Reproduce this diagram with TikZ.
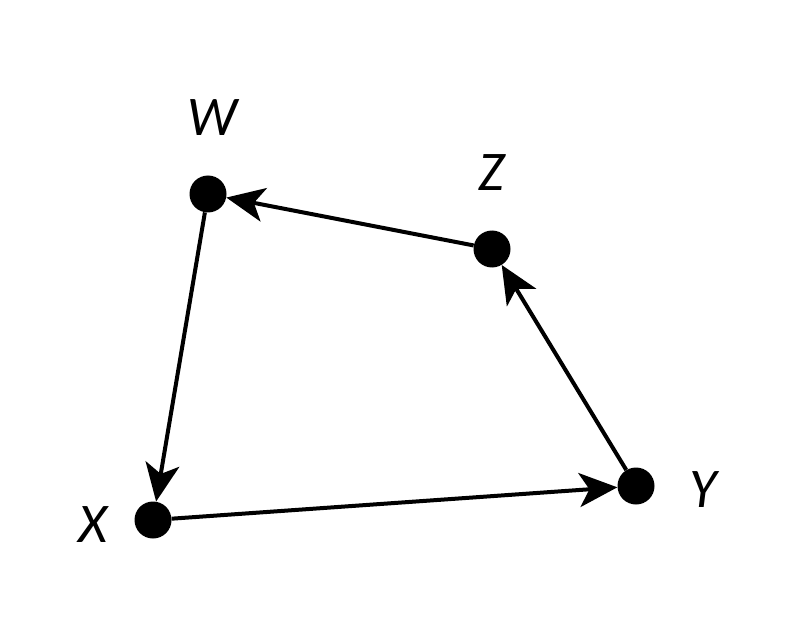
\documentclass[tikz,border=0pt]{standalone}
\usepackage{fontspec}
\setmainfont{Carlito}
\usetikzlibrary{arrows.meta}
\tikzset{
    dotnode/.style={
        circle,
        fill=black,
        minimum size=37pt,
        inner sep=0
    },
    labelnode/.style={
        font=\fontsize{56}{60}\selectfont\itshape
    },
    edge/.style={
        line width=4pt,
        -{Stealth[length=38pt,width=34pt,inset=10pt]}
    }
}
\begin{document}
\begin{tikzpicture}[x=1pt,y=-1pt]
    \useasboundingbox (0,0) rectangle (789,636);
    % points
    \node[dotnode] (w) at (208,194) {};
    \node[dotnode] (z) at (492,249) {};
    \node[dotnode] (y) at (636,486) {};
    \node[dotnode] (x) at (153,520) {};
    % labels
    \node[labelnode] (wl) at (212,118) {W};
    \node[labelnode] (zl) at (492,173) {Z};
    \node[labelnode] (yl) at (703,490) {Y};
    \node[labelnode] (xl) at (93,525) {X};
    % cycle
    \draw[edge] (x) -- (y);
    \draw[edge] (y) -- (z);
    \draw[edge] (z) -- (w);
    \draw[edge] (w) -- (x);
\end{tikzpicture}
\end{document}
